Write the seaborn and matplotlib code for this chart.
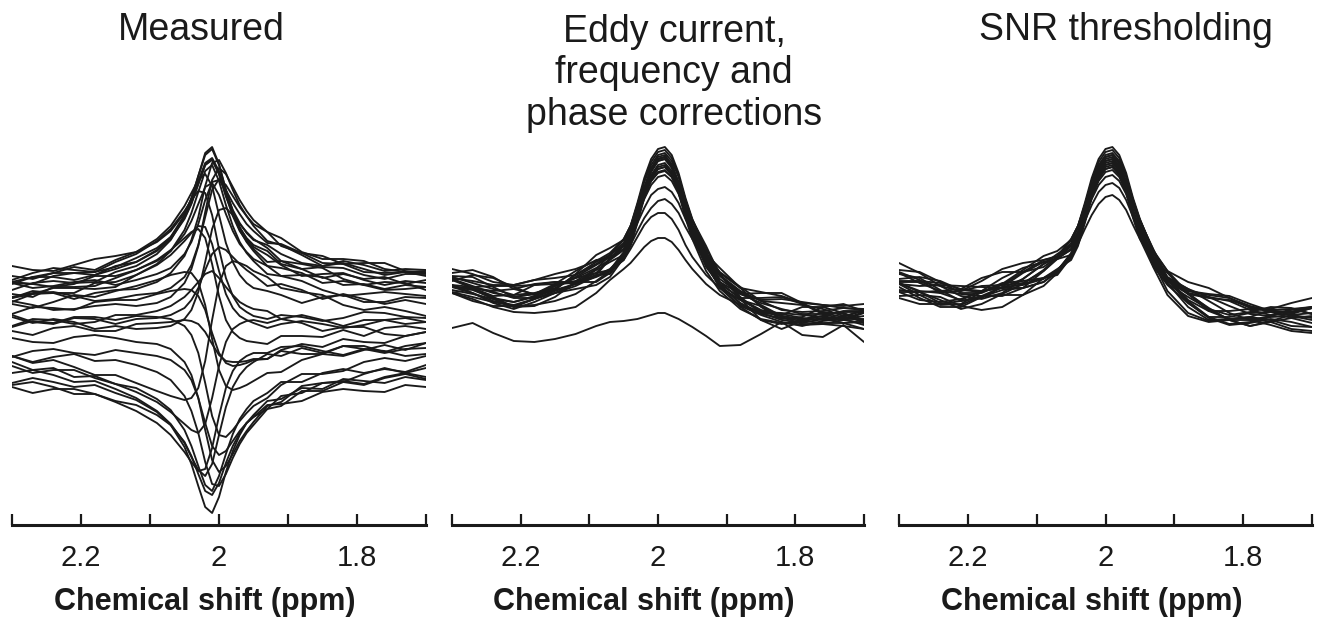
import matplotlib
matplotlib.use('Agg')
import matplotlib.pyplot as plt
import pandas as pd
import seaborn as sns

# chemical shift grid (ppm), denser around the NAA peak
PPM = [2.30, 2.27, 2.24, 2.21, 2.18, 2.15, 2.12, 2.09, 2.07, 2.05, 2.04, 2.03, 2.02, 2.01, 2.00,
       1.99, 1.98, 1.97, 1.96, 1.95, 1.93, 1.91, 1.88, 1.85, 1.82, 1.79, 1.76, 1.73, 1.70]

TITLES = ["Measured", "Eddy current,\nfrequency and\nphase corrections", "SNR thresholding"]
XLABEL = "Chemical shift (ppm)"
TICKS = [2.3, 2.2, 2.1, 2.0, 1.9, 1.8, 1.7]
TICK_LABELS = ["", "2.2", "", "2", "", "1.8", ""]

# signal (a.u.) of individual transients
MEASURED = [
    [243, 248, 248, 245, 250, 259, 263, 275, 288, 310, 327, 349, 370, 376, 360, 335, 314, 298, 286, 278, 270, 260, 249, 251, 252, 245, 240, 244, 242],
    [241, 248, 252, 252, 250, 256, 263, 274, 286, 306, 321, 341, 360, 366, 351, 329, 309, 294, 284, 276, 263, 264, 256, 247, 251, 246, 248, 241, 245],
    [259, 255, 254, 260, 266, 269, 273, 283, 294, 312, 326, 344, 362, 367, 354, 333, 315, 302, 292, 285, 280, 271, 262, 259, 264, 260, 254, 256, 255],
    [227, 231, 237, 237, 236, 238, 250, 261, 274, 295, 312, 333, 354, 360, 344, 320, 299, 283, 272, 264, 251, 249, 244, 235, 229, 231, 233, 231, 229],
    [224, 220, 215, 216, 219, 221, 219, 222, 228, 242, 256, 279, 313, 345, 357, 351, 338, 325, 314, 305, 293, 279, 272, 269, 261, 253, 252, 253, 252],
    [228, 232, 233, 229, 224, 226, 230, 232, 237, 248, 260, 280, 308, 335, 346, 340, 329, 318, 309, 301, 293, 287, 273, 266, 266, 264, 256, 253, 254],
    [243, 241, 249, 252, 253, 263, 271, 284, 296, 314, 325, 334, 332, 310, 276, 247, 229, 218, 213, 209, 206, 210, 208, 204, 207, 213, 212, 208, 207],
    [223, 231, 232, 232, 242, 243, 250, 260, 270, 284, 292, 299, 298, 281, 254, 231, 217, 209, 205, 202, 197, 201, 204, 201, 197, 200, 205, 207, 203],
    [221, 217, 223, 230, 228, 234, 239, 245, 250, 253, 252, 243, 220, 186, 155, 139, 135, 137, 140, 144, 152, 153, 165, 171, 169, 175, 180, 175, 182],
    [211, 218, 217, 215, 223, 225, 225, 231, 234, 236, 235, 229, 215, 192, 172, 162, 159, 160, 162, 165, 166, 175, 181, 178, 186, 183, 182, 189, 193],
    [187, 183, 182, 188, 190, 187, 183, 181, 176, 163, 150, 127, 95, 65, 53, 59, 71, 84, 94, 103, 119, 123, 139, 142, 143, 151, 157, 152, 157],
    [168, 174, 176, 172, 170, 175, 172, 169, 165, 155, 145, 127, 102, 79, 70, 74, 84, 94, 102, 108, 116, 129, 132, 142, 144, 141, 148, 152, 148],
    [142, 147, 143, 138, 140, 132, 125, 113, 100, 78, 61, 39, 18, 12, 28, 53, 74, 90, 102, 110, 124, 126, 137, 136, 146, 144, 142, 148, 145],
    [159, 152, 155, 155, 147, 141, 137, 126, 115, 95, 79, 59, 40, 34, 49, 71, 91, 106, 116, 124, 132, 143, 143, 152, 156, 152, 156, 153, 160],
    [138, 132, 136, 136, 131, 124, 120, 110, 100, 83, 69, 51, 34, 30, 42, 62, 79, 92, 102, 108, 120, 121, 124, 133, 136, 134, 133, 140, 138],
    [140, 143, 138, 131, 131, 123, 114, 102, 90, 73, 63, 54, 56, 77, 109, 137, 154, 164, 169, 172, 172, 178, 179, 174, 170, 176, 174, 169, 171],
    [169, 162, 165, 158, 150, 150, 142, 134, 129, 125, 127, 137, 164, 205, 241, 259, 264, 262, 259, 254, 248, 237, 233, 230, 220, 215, 218, 214, 209],
    [210, 203, 201, 207, 206, 201, 206, 207, 210, 217, 225, 237, 255, 271, 278, 275, 268, 261, 255, 250, 239, 241, 235, 226, 231, 226, 221, 225, 221],
    [199, 206, 205, 201, 203, 210, 210, 214, 219, 228, 235, 243, 251, 254, 247, 238, 230, 223, 219, 216, 214, 206, 210, 205, 199, 205, 205, 201, 203],
    [194, 190, 197, 199, 194, 194, 201, 202, 203, 205, 204, 201, 193, 181, 170, 164, 163, 163, 164, 166, 166, 174, 171, 171, 179, 179, 173, 179, 182],
    [242, 241, 238, 241, 249, 249, 255, 264, 274, 291, 304, 321, 338, 342, 330, 311, 294, 281, 273, 266, 259, 249, 250, 248, 240, 241, 236, 240, 238],
    [235, 242, 244, 242, 243, 253, 259, 271, 285, 308, 326, 349, 372, 378, 361, 335, 312, 295, 283, 274, 259, 257, 252, 242, 244, 240, 235, 236, 238],
    [249, 246, 252, 258, 255, 265, 273, 286, 299, 319, 332, 345, 351, 339, 310, 282, 263, 250, 242, 237, 234, 230, 222, 228, 230, 223, 223, 228, 227],
    [227, 234, 232, 226, 232, 235, 236, 243, 252, 269, 285, 308, 339, 362, 365, 352, 335, 320, 309, 299, 284, 280, 270, 259, 262, 256, 250, 253, 249],
    [231, 228, 238, 238, 239, 247, 255, 265, 275, 287, 293, 296, 287, 261, 229, 205, 193, 187, 184, 183, 181, 189, 189, 188, 195, 189, 197, 199, 196],
    [208, 202, 206, 203, 196, 199, 196, 197, 199, 206, 215, 233, 263, 296, 315, 317, 310, 301, 293, 286, 277, 264, 261, 257, 246, 240, 243, 242, 235],
    [198, 204, 202, 208, 208, 205, 209, 208, 206, 199, 190, 172, 142, 109, 90, 88, 95, 104, 112, 119, 127, 140, 151, 151, 154, 163, 167, 164, 169],
    [169, 163, 168, 171, 164, 165, 160, 153, 145, 129, 114, 92, 63, 41, 39, 51, 67, 81, 92, 100, 116, 119, 134, 134, 143, 140, 147, 151, 146],
    [152, 155, 150, 143, 144, 136, 127, 114, 101, 82, 68, 55, 49, 61, 90, 118, 138, 150, 158, 163, 171, 169, 177, 172, 179, 176, 172, 176, 177],
    [163, 155, 157, 148, 149, 141, 133, 123, 113, 101, 95, 92, 101, 127, 159, 183, 196, 201, 204, 205, 202, 206, 202, 194, 198, 198, 191, 189, 193],
    [245, 252, 257, 255, 253, 258, 267, 277, 288, 307, 322, 341, 360, 365, 351, 329, 311, 297, 287, 280, 274, 261, 256, 258, 257, 250, 246, 251, 251],
    [242, 237, 239, 243, 245, 240, 245, 251, 257, 271, 283, 301, 325, 343, 345, 335, 322, 311, 301, 294, 282, 281, 272, 262, 261, 262, 262, 254, 252],
]

CORRECTED = [
    [252, 255, 248, 236, 231, 235, 251, 270, 277, 285, 299, 322, 347, 366, 376, 378, 370, 352, 327, 306, 274, 243, 231, 232, 232, 222, 212, 208, 215],
    [245, 237, 234, 236, 241, 243, 243, 252, 267, 279, 293, 316, 338, 356, 366, 368, 360, 343, 321, 300, 271, 257, 237, 218, 206, 208, 218, 221, 214],
    [239, 235, 227, 223, 229, 239, 247, 252, 255, 273, 289, 311, 336, 356, 366, 368, 360, 341, 316, 295, 265, 243, 226, 215, 211, 207, 205, 206, 209],
    [232, 224, 219, 219, 226, 232, 236, 240, 248, 267, 281, 304, 329, 348, 358, 360, 352, 334, 309, 288, 260, 238, 218, 205, 201, 204, 207, 202, 196],
    [256, 251, 243, 240, 245, 251, 256, 264, 272, 286, 299, 315, 331, 344, 352, 354, 348, 336, 319, 305, 276, 252, 237, 233, 229, 222, 220, 219, 221],
    [246, 239, 232, 228, 231, 239, 247, 257, 265, 275, 288, 308, 328, 344, 353, 355, 348, 333, 312, 294, 264, 249, 233, 220, 209, 205, 209, 214, 214],
    [235, 231, 226, 223, 228, 235, 241, 248, 254, 271, 286, 310, 335, 355, 366, 368, 359, 340, 315, 293, 267, 251, 226, 205, 196, 204, 213, 211, 202],
    [249, 248, 238, 228, 231, 241, 254, 265, 267, 279, 291, 309, 326, 340, 348, 350, 344, 331, 313, 297, 269, 241, 227, 227, 228, 221, 211, 206, 213],
    [233, 228, 223, 219, 220, 224, 231, 244, 254, 265, 279, 302, 327, 346, 356, 358, 350, 332, 307, 286, 254, 234, 216, 206, 202, 200, 201, 199, 196],
    [248, 242, 236, 230, 232, 237, 248, 260, 268, 276, 286, 302, 317, 330, 336, 338, 333, 322, 306, 293, 266, 246, 231, 222, 216, 211, 211, 213, 213],
    [238, 237, 233, 227, 227, 232, 242, 255, 263, 270, 280, 294, 307, 317, 324, 326, 321, 312, 298, 286, 264, 240, 221, 213, 212, 210, 208, 206, 206],
    [247, 244, 240, 240, 245, 247, 250, 261, 270, 285, 299, 320, 343, 360, 370, 372, 364, 348, 325, 305, 279, 250, 231, 225, 226, 223, 220, 217, 216],
    [240, 232, 222, 216, 223, 232, 239, 249, 256, 269, 284, 308, 333, 353, 364, 366, 357, 338, 313, 291, 258, 240, 222, 211, 207, 204, 202, 202, 203],
    [240, 238, 239, 239, 240, 241, 244, 256, 270, 280, 293, 315, 337, 354, 364, 366, 358, 342, 320, 300, 270, 253, 238, 224, 215, 213, 214, 217, 215],
    [244, 250, 247, 238, 230, 236, 250, 263, 270, 282, 297, 320, 344, 363, 373, 375, 367, 349, 325, 304, 272, 250, 234, 224, 222, 220, 216, 209, 214],
    [238, 236, 226, 218, 226, 240, 243, 243, 252, 270, 285, 307, 331, 350, 360, 362, 354, 336, 312, 292, 261, 238, 225, 219, 208, 201, 201, 205, 212],
    [246, 237, 229, 230, 240, 243, 241, 250, 266, 276, 289, 310, 330, 347, 356, 358, 351, 335, 314, 296, 268, 250, 228, 212, 210, 218, 218, 212, 205],
    [232, 236, 228, 218, 219, 228, 243, 250, 251, 268, 284, 309, 336, 357, 368, 370, 361, 341, 314, 292, 262, 237, 219, 210, 203, 199, 204, 206, 200],
    [238, 232, 224, 220, 226, 234, 241, 249, 255, 265, 276, 288, 300, 308, 312, 312, 306, 295, 280, 268, 250, 237, 225, 214, 209, 206, 209, 205, 202],
    [232, 226, 218, 213, 212, 214, 218, 232, 245, 256, 262, 270, 278, 284, 287, 287, 283, 275, 265, 256, 241, 230, 220, 212, 205, 202, 206, 208, 204],
    [197, 202, 192, 184, 183, 186, 191, 199, 203, 204, 205, 206, 208, 210, 212, 212, 209, 206, 202, 198, 189, 179, 180, 191, 203, 190, 188, 200, 183],
]

THRESHOLDED = [
    [255, 253, 243, 232, 232, 241, 255, 269, 274, 285, 299, 322, 347, 366, 376, 378, 370, 352, 327, 306, 272, 247, 234, 230, 227, 219, 214, 213, 217],
    [241, 239, 240, 239, 238, 237, 241, 255, 268, 279, 293, 316, 339, 358, 368, 370, 362, 344, 321, 300, 274, 254, 232, 216, 210, 213, 218, 217, 211],
    [241, 230, 220, 221, 233, 242, 244, 247, 254, 272, 287, 309, 333, 352, 362, 364, 356, 338, 314, 294, 261, 244, 231, 217, 205, 199, 204, 210, 212],
    [227, 221, 221, 224, 229, 230, 230, 239, 252, 267, 281, 304, 329, 348, 358, 360, 352, 334, 309, 288, 262, 234, 212, 204, 206, 207, 203, 196, 194],
    [262, 252, 239, 234, 244, 256, 262, 265, 269, 286, 299, 318, 336, 351, 360, 362, 355, 341, 322, 305, 273, 254, 243, 237, 227, 217, 216, 222, 227],
    [243, 243, 239, 229, 226, 232, 246, 261, 267, 275, 288, 308, 328, 344, 353, 355, 348, 333, 312, 294, 268, 252, 231, 214, 206, 208, 215, 216, 211],
    [233, 225, 223, 226, 234, 237, 237, 243, 254, 271, 286, 310, 335, 355, 366, 368, 359, 340, 315, 293, 265, 245, 224, 208, 201, 203, 208, 209, 205],
    [253, 245, 232, 225, 234, 247, 257, 263, 266, 279, 291, 309, 326, 340, 348, 350, 344, 331, 313, 297, 266, 244, 232, 228, 224, 215, 210, 211, 217],
    [229, 230, 228, 219, 215, 218, 230, 247, 256, 265, 279, 302, 327, 346, 356, 358, 350, 332, 307, 286, 257, 230, 209, 203, 205, 205, 200, 194, 192],
    [251, 247, 235, 224, 227, 238, 252, 263, 266, 276, 287, 304, 320, 333, 340, 342, 337, 325, 308, 293, 262, 248, 236, 224, 212, 205, 209, 216, 218],
    [233, 233, 234, 231, 229, 229, 237, 254, 266, 270, 281, 296, 310, 321, 328, 330, 325, 315, 300, 286, 266, 245, 222, 208, 208, 212, 213, 207, 202],
    [252, 242, 234, 236, 247, 253, 253, 258, 268, 285, 299, 320, 343, 360, 370, 372, 364, 348, 325, 305, 274, 247, 234, 231, 229, 221, 214, 213, 218],
    [238, 227, 218, 218, 228, 235, 237, 243, 253, 269, 284, 308, 333, 353, 364, 366, 357, 338, 313, 291, 263, 242, 218, 205, 206, 208, 205, 199, 198],
    [244, 244, 242, 236, 234, 237, 246, 261, 271, 280, 293, 315, 337, 354, 364, 366, 358, 342, 320, 300, 267, 247, 236, 228, 219, 211, 209, 215, 218],
    [246, 248, 244, 235, 233, 240, 253, 265, 268, 282, 297, 320, 344, 363, 373, 375, 367, 349, 325, 304, 275, 247, 231, 227, 225, 218, 213, 212, 217],
    [242, 233, 222, 220, 229, 238, 240, 246, 255, 270, 285, 307, 331, 350, 360, 362, 354, 336, 312, 292, 258, 241, 228, 216, 205, 199, 203, 207, 209],
    [242, 234, 232, 234, 239, 240, 242, 254, 267, 276, 289, 310, 330, 347, 356, 358, 351, 335, 314, 296, 271, 247, 225, 214, 214, 216, 215, 210, 207],
    [235, 233, 225, 216, 221, 231, 241, 247, 250, 268, 284, 309, 336, 357, 368, 370, 361, 341, 314, 292, 259, 240, 222, 207, 200, 202, 206, 203, 198],
]


def to_long(traces):
    rows = []
    for i, tr in enumerate(traces):
        if len(tr) != len(PPM):
            print("bad trace length", i, len(tr))
        for x, y in zip(PPM, tr):
            rows.append((i, x, y))
    return pd.DataFrame(rows, columns=["trace", "ppm", "signal"])


sns.set_style("white")
plt.rcParams['font.family'] = ['Liberation Sans', 'DejaVu Sans']

fig = plt.figure(figsize=(13.23, 6.24), dpi=100)

# axes placement in figure fractions (left, bottom, width, height)
panel_rects = [
    [12 / 1323, 99 / 624, 414 / 1323, 385 / 624],
    [452 / 1323, 99 / 624, 412 / 1323, 385 / 624],
    [899 / 1323, 99 / 624, 413 / 1323, 385 / 624],
]
# title anchor: x centre, baseline of the last line
title_pos = [(201 / 1323, 1 - 40 / 624), (674 / 1323, 1 - 125 / 624), (1126 / 1323, 1 - 40 / 624)]

for rect, traces, title, (tx, ty) in zip(panel_rects, [MEASURED, CORRECTED, THRESHOLDED], TITLES, title_pos):
    ax = fig.add_axes(rect)
    df = to_long(traces)
    sns.lineplot(data=df, x="ppm", y="signal", units="trace", estimator=None,
                 color="#1a1a1a", linewidth=1.35, legend=False, ax=ax)
    ax.set_xlim(2.3, 1.7)
    ax.set_ylim(0, 385)
    sns.despine(ax=ax, left=True)
    ax.spines["bottom"].set_linewidth(2.2)
    ax.spines["bottom"].set_color("#1a1a1a")
    ax.set_yticks([])
    ax.set_ylabel("")
    ax.set_xticks(TICKS)
    ax.set_xticklabels(TICK_LABELS)
    ax.tick_params(axis="x", direction="in", length=8, width=1.6, color="#1a1a1a",
                   pad=14, labelsize=21, labelcolor="#1a1a1a", bottom=True)
    ax.set_xlabel(XLABEL, fontsize=22, fontweight="bold", color="#1a1a1a")
    ax.xaxis.set_label_coords(0.466, -0.16)
    fig.text(tx, ty, title, ha="center", va="baseline", fontsize=27,
             linespacing=1.2, color="#1a1a1a")

fig.savefig("out.png", dpi=100)
